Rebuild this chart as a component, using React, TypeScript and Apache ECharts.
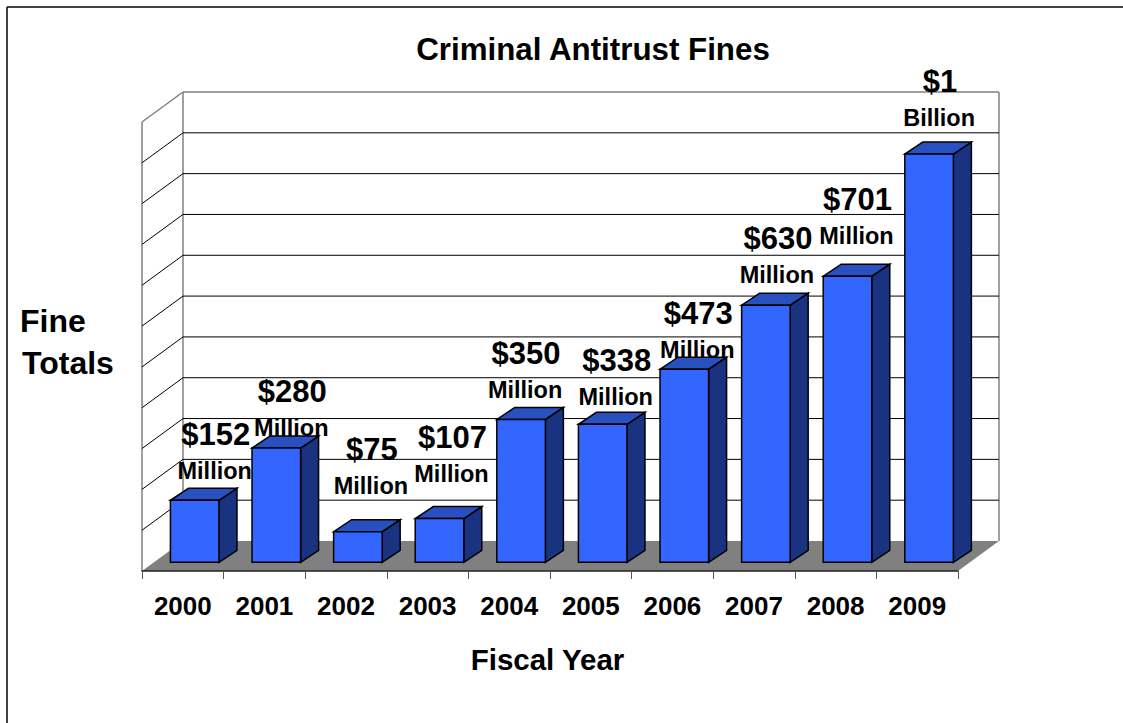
import React, { useEffect, useRef } from "react";
import * as echarts from "echarts";

const years = ["2000", "2001", "2002", "2003", "2004", "2005", "2006", "2007", "2008", "2009"];
const fines = [152, 280, 75, 107, 350, 338, 473, 630, 701, 1000];
const amountLabels = ["$152", "$280", "$75", "$107", "$350", "$338", "$473", "$630", "$701", "$1"];
const unitLabels = ["Million", "Million", "Million", "Million", "Million", "Million", "Million", "Million", "Million", "Billion"];
const gridTicks = [0, 100, 200, 300, 400, 500, 600, 700, 800, 900, 1000, 1100];

// Hand placement of each label pair relative to the top of its bar.
const labelShiftX = [20, 15, 13, 12, 4, 13, 13, 11, 9, 10];
const labelLiftY = [29, 20, 45.5, 45, 29, 27, 19, 30, 40, 36];

const FONT = '"Liberation Sans", Arial, sans-serif';
const DEPTH_X = 41;
const DEPTH_Y = 30;
const BAR_OFFSET_X = 11.9;
const BAR_OFFSET_Y = 8.7;
const BAR_DEPTH_X = 18;
const BAR_DEPTH_Y = 12;
const GRAY = "#808080";

function seg(x1: number, y1: number, x2: number, y2: number, stroke: string, lineWidth: number) {
  return { type: "line", shape: { x1, y1, x2, y2 }, style: { stroke, lineWidth, fill: "none" } };
}

// Floor, side wall and back wall of the 3D box, one tick per data item.
function renderWalls(params: any, api: any) {
  const v = api.value(1);
  const cs = params.coordSys;
  const y = api.coord([0, v])[1];
  const left = cs.x;
  const right = cs.x + cs.width;
  const children: any[] = [];
  if (v === 0) {
    children.push({
      type: "polygon",
      shape: {
        points: [
          [left, y],
          [right, y],
          [right + DEPTH_X, y - DEPTH_Y],
          [left + DEPTH_X, y - DEPTH_Y],
        ],
      },
      style: { fill: GRAY },
    });
    children.push(seg(left, y, left, cs.y, GRAY, 1.5));
    children.push(seg(left + DEPTH_X, y - DEPTH_Y, left + DEPTH_X, cs.y - DEPTH_Y, GRAY, 1.5));
    children.push(seg(right + DEPTH_X, y - DEPTH_Y, right + DEPTH_X, cs.y - DEPTH_Y, GRAY, 1.5));
  } else {
    const top = v === gridTicks[gridTicks.length - 1];
    const color = top ? GRAY : "#000";
    const w = top ? 1.5 : 1;
    children.push(seg(left, y, left + DEPTH_X, y - DEPTH_Y, color, w));
    children.push(seg(left + DEPTH_X, y - DEPTH_Y, right + DEPTH_X, y - DEPTH_Y, color, w));
  }
  return { type: "group", children };
}

function renderBar(params: any, api: any) {
  const [cx, yTop] = api.coord([api.value(0), api.value(1)]);
  const [, yBase] = api.coord([api.value(0), 0]);
  const band = api.size([1, 0])[0];
  const w = band * 0.595;
  const x0 = cx - w / 2 + BAR_OFFSET_X;
  const x1 = x0 + w;
  const y0 = yBase - BAR_OFFSET_Y;
  const y1 = yTop - BAR_OFFSET_Y;
  const edge = { stroke: "#000", lineWidth: 1.5, lineJoin: "miter" };
  return {
    type: "group",
    children: [
      {
        type: "polygon",
        shape: { points: [[x1, y0], [x1 + BAR_DEPTH_X, y0 - BAR_DEPTH_Y], [x1 + BAR_DEPTH_X, y1 - BAR_DEPTH_Y], [x1, y1]] },
        style: { fill: "#1A3380", ...edge },
      },
      {
        type: "polygon",
        shape: { points: [[x0, y1], [x1, y1], [x1 + BAR_DEPTH_X, y1 - BAR_DEPTH_Y], [x0 + BAR_DEPTH_X, y1 - BAR_DEPTH_Y]] },
        style: { fill: "#2850C0", ...edge },
      },
      {
        type: "polygon",
        shape: { points: [[x0, y0], [x1, y0], [x1, y1], [x0, y1]] },
        style: { fill: "#3366FF", ...edge },
      },
    ],
  };
}

function renderLabels(params: any, api: any) {
  const i = params.dataIndex;
  const [cx, yTop] = api.coord([i, api.value(1)]);
  const x = cx + BAR_OFFSET_X + labelShiftX[i];
  const yUnit = yTop - BAR_OFFSET_Y - labelLiftY[i];
  const text = (content: string, tx: number, ty: number, size: number) => ({
    type: "text",
    x: tx,
    y: ty,
    style: {
      text: content,
      fill: "#000",
      font: `bold ${size}px ${FONT}`,
      textAlign: "center",
      textVerticalAlign: "middle",
    },
  });
  return {
    type: "group",
    children: [text(amountLabels[i], x + 1, yUnit - 36.5, 31), text(unitLabels[i], x, yUnit, 23.5)],
  };
}

export default function App() {
  const ref = useRef<HTMLDivElement>(null);
  useEffect(() => {
    const chart = echarts.init(ref.current!, null, { renderer: "svg" });
    chart.setOption({
      animation: false,
      backgroundColor: "#fff",
      title: {
        text: "Criminal Antitrust Fines",
        left: 593,
        top: 29,
        textAlign: "center",
        padding: [5, 5, 5, 0],
        textStyle: { fontFamily: FONT, fontWeight: "bold", fontSize: 31.3, color: "#000" },
      },
      grid: { left: 142, top: 122, width: 816, height: 449 },
      xAxis: {
        type: "category",
        data: years,
        z: 5,
        boundaryGap: true,
        axisLine: { lineStyle: { color: "#222", width: 1.5 } },
        axisTick: { show: true, alignWithLabel: false, length: 8, lineStyle: { color: "#555", width: 1 } },
        axisLabel: { color: "#000", fontFamily: FONT, fontWeight: "bold", fontSize: 26, margin: 22, interval: 0 },
        name: "Fiscal Year",
        nameLocation: "middle",
        nameGap: 73,
        nameTextStyle: { color: "#000", fontFamily: FONT, fontWeight: "bold", fontSize: 29.5, padding: [0, 5, 0, 0] },
      },
      yAxis: { type: "value", min: 0, max: 1100, interval: 100, show: false },
      series: [
        {
          type: "custom",
          name: "walls",
          renderItem: renderWalls,
          data: gridTicks.map((t) => [0, t]),
          silent: true,
          clip: false,
          z: 1,
        },
        {
          type: "custom",
          name: "fines",
          renderItem: renderBar,
          data: fines.map((v, i) => [i, v]),
          clip: false,
          z: 2,
        },
        {
          type: "custom",
          name: "labels",
          renderItem: renderLabels,
          data: fines.map((v, i) => [i, v]),
          clip: false,
          z: 3,
        },
      ],
      graphic: [
        { type: "line", shape: { x1: 7, y1: 7, x2: 1123, y2: 7 }, style: { stroke: "#000", lineWidth: 1.5 } },
        { type: "line", shape: { x1: 7, y1: 7, x2: 7, y2: 723 }, style: { stroke: "#000", lineWidth: 1.5 } },
        { type: "text", x: 20, y: 305, style: { text: "Fine", font: `bold 32px ${FONT}`, fill: "#000" } },
        { type: "text", x: 22, y: 347, style: { text: "Totals", font: `bold 32px ${FONT}`, fill: "#000" } },
      ],
    });
    return () => chart.dispose();
  }, []);
  return <div ref={ref} style={{ position: "absolute", left: 0, top: 0, width: 1123, height: 723 }} />;
}
